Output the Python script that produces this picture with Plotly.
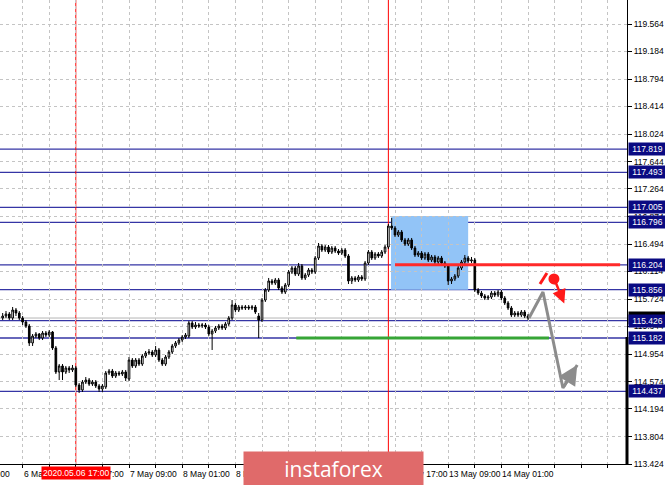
import plotly.graph_objects as go

# ---------------- data (hourly candles) ----------------
bar_index = list(range(159))

open_ = [115.461, 115.489, 115.517, 115.461, 115.573, 115.531, 115.461, 115.405, 115.350, 115.113,
         115.210, 115.238, 115.182, 115.252, 115.224, 115.266, 115.043, 114.708, 114.792, 114.708,
         114.764, 114.736, 114.764, 114.526, 114.457, 114.568, 114.596, 114.540, 114.568, 114.513,
         114.471, 114.499, 114.694, 114.722, 114.652, 114.694, 114.680, 114.708, 114.610, 114.875,
         114.792, 114.875, 114.819, 114.931, 114.973, 114.987, 114.945, 115.015, 114.875, 114.819,
         114.917, 114.987, 115.071, 115.113, 115.154, 115.196, 115.210, 115.392, 115.336, 115.364,
         115.350, 115.364, 115.336, 115.238, 115.280, 115.322, 115.350, 115.322, 115.378, 115.461,
         115.643, 115.573, 115.615, 115.601, 115.615, 115.601, 115.615, 115.489, 115.433, 115.712,
         115.852, 115.978, 115.950, 115.992, 115.880, 115.824, 115.922, 116.103, 116.159, 116.075,
         116.187, 116.020, 116.061, 116.131, 116.103, 116.299, 116.466, 116.410, 116.452, 116.382,
         116.438, 116.396, 116.368, 116.410, 116.327, 115.978, 116.020, 115.992, 116.034, 116.006,
         116.229, 116.382, 116.299, 116.354, 116.327, 116.382, 116.452, 116.745, 116.717, 116.620,
         116.661, 116.550, 116.494, 116.550, 116.438, 116.341, 116.368, 116.299, 116.354, 116.271,
         116.313, 116.243, 116.299, 116.229, 116.187, 115.978, 116.006, 116.047, 116.159, 116.243,
         116.299, 116.257, 116.271, 115.852, 115.810, 115.768, 115.740, 115.754, 115.810, 115.782,
         115.824, 115.740, 115.671, 115.601, 115.503, 115.531, 115.503, 115.545, 115.489]

high = [115.531, 115.559, 115.545, 115.615, 115.601, 115.559, 115.489, 115.433, 115.378, 115.238,
        115.266, 115.252, 115.280, 115.280, 115.294, 115.280, 115.071, 114.819, 114.819, 114.792,
        114.792, 114.806, 114.792, 114.554, 114.596, 114.638, 114.624, 114.596, 114.596, 114.540,
        114.540, 114.722, 114.750, 114.750, 114.722, 114.722, 114.736, 114.736, 114.917, 114.903,
        114.903, 114.903, 114.959, 115.001, 115.029, 115.015, 115.071, 115.043, 114.903, 114.945,
        115.015, 115.099, 115.140, 115.182, 115.224, 115.252, 115.419, 115.419, 115.405, 115.392,
        115.392, 115.392, 115.364, 115.308, 115.350, 115.378, 115.378, 115.405, 115.489, 115.712,
        115.671, 115.643, 115.643, 115.643, 115.643, 115.643, 115.643, 115.531, 115.740, 115.880,
        116.020, 116.006, 116.020, 116.020, 115.908, 115.950, 116.131, 116.187, 116.187, 116.229,
        116.215, 116.089, 116.159, 116.159, 116.327, 116.508, 116.494, 116.480, 116.480, 116.466,
        116.466, 116.424, 116.438, 116.438, 116.354, 116.047, 116.047, 116.061, 116.061, 116.257,
        116.410, 116.410, 116.382, 116.382, 116.410, 116.480, 116.773, 116.857, 116.745, 116.689,
        116.689, 116.578, 116.578, 116.578, 116.466, 116.396, 116.396, 116.382, 116.382, 116.341,
        116.341, 116.327, 116.327, 116.257, 116.215, 116.034, 116.075, 116.187, 116.271, 116.341,
        116.327, 116.313, 116.299, 115.880, 115.838, 115.796, 115.782, 115.838, 115.838, 115.852,
        115.852, 115.768, 115.698, 115.629, 115.559, 115.559, 115.573, 115.573, 115.517]

low = [115.433, 115.461, 115.433, 115.433, 115.489, 115.433, 115.364, 115.322, 115.071, 115.071,
       115.182, 115.154, 115.154, 115.196, 115.196, 115.015, 114.680, 114.596, 114.596, 114.680,
       114.694, 114.708, 114.499, 114.415, 114.429, 114.540, 114.513, 114.513, 114.485, 114.429,
       114.429, 114.471, 114.666, 114.624, 114.624, 114.652, 114.652, 114.582, 114.582, 114.764,
       114.764, 114.792, 114.792, 114.903, 114.945, 114.917, 114.917, 114.847, 114.792, 114.792,
       114.889, 114.959, 115.043, 115.085, 115.126, 115.168, 115.182, 115.308, 115.308, 115.322,
       115.322, 115.308, 115.210, 115.015, 115.252, 115.294, 115.294, 115.294, 115.350, 115.433,
       115.545, 115.545, 115.573, 115.573, 115.573, 115.573, 115.517, 115.182, 115.405, 115.685,
       115.824, 115.922, 115.922, 115.852, 115.796, 115.796, 115.894, 116.075, 116.047, 116.047,
       115.992, 115.992, 116.034, 116.075, 116.075, 116.271, 116.382, 116.382, 116.354, 116.354,
       116.368, 116.341, 116.341, 116.299, 115.936, 115.936, 115.964, 115.964, 115.978, 115.978,
       116.201, 116.271, 116.271, 116.299, 116.299, 116.354, 116.424, 116.689, 116.592, 116.592,
       116.522, 116.466, 116.466, 116.410, 116.313, 116.313, 116.271, 116.271, 116.243, 116.243,
       116.215, 116.215, 116.201, 116.159, 115.922, 115.936, 115.978, 116.020, 116.131, 116.215,
       116.229, 116.229, 115.824, 115.782, 115.740, 115.712, 115.712, 115.726, 115.754, 115.754,
       115.712, 115.643, 115.573, 115.475, 115.475, 115.475, 115.475, 115.461, 115.433]

close = [115.489, 115.517, 115.461, 115.573, 115.531, 115.461, 115.405, 115.350, 115.113, 115.210,
         115.238, 115.182, 115.252, 115.224, 115.266, 115.043, 114.708, 114.792, 114.708, 114.764,
         114.736, 114.764, 114.526, 114.457, 114.568, 114.596, 114.540, 114.568, 114.513, 114.471,
         114.513, 114.694, 114.722, 114.652, 114.694, 114.680, 114.708, 114.624, 114.875, 114.792,
         114.875, 114.819, 114.931, 114.973, 114.987, 114.945, 115.015, 114.875, 114.819, 114.917,
         114.987, 115.071, 115.113, 115.154, 115.196, 115.224, 115.392, 115.336, 115.364, 115.350,
         115.364, 115.336, 115.238, 115.280, 115.322, 115.350, 115.322, 115.378, 115.461, 115.643,
         115.573, 115.615, 115.601, 115.615, 115.601, 115.615, 115.545, 115.433, 115.712, 115.852,
         115.978, 115.950, 115.992, 115.880, 115.824, 115.922, 116.103, 116.159, 116.075, 116.187,
         116.020, 116.061, 116.131, 116.103, 116.299, 116.466, 116.410, 116.452, 116.382, 116.438,
         116.396, 116.368, 116.410, 116.327, 115.978, 116.020, 115.992, 116.034, 116.006, 116.229,
         116.382, 116.299, 116.354, 116.327, 116.382, 116.452, 116.745, 116.717, 116.620, 116.661,
         116.550, 116.494, 116.550, 116.438, 116.341, 116.368, 116.299, 116.354, 116.271, 116.313,
         116.243, 116.299, 116.229, 116.187, 115.978, 116.006, 116.047, 116.159, 116.243, 116.299,
         116.257, 116.271, 115.852, 115.810, 115.768, 115.740, 115.754, 115.810, 115.782, 115.824,
         115.740, 115.671, 115.601, 115.503, 115.531, 115.503, 115.545, 115.489, 115.461]

price_ticks = [113.424, 113.804, 114.194, 114.574, 114.954, 115.344, 115.724, 116.114, 116.494,
               116.874, 117.264, 117.644, 118.024, 118.414, 118.794, 119.184, 119.564]

time_label_pos = [6, 22, 38, 54, 70, 86, 102, 118, 134, 150]
time_label_text = ["6 May 01:00", "6 May 17:00", "7 May 09:00", "8 May 01:00", "8 May 17:00",
                   "11 May 09:00", "12 May 01:00", "12 May 17:00", "13 May 09:00", "14 May 01:00"]
first_cut_label = "5 May 09:00"
grid_pos = [6 + 8 * k for k in range(23)]

levels = [117.819, 117.493, 117.005, 116.796, 116.204, 115.856, 115.426, 115.182, 114.437]
bid_price = 115.461
vlines = [22, 116]
crosshair_label = "2020.05.06 17:00"

zone_x = [116.8, 140.0]
zone_y = [115.856, 116.885]

red_level = 116.204
red_x = [118.0, 185.7]
green_level = 115.182
green_x = [88.3, 164.3]

path_x = [158.3, 162.5, 168.5]
path_y = [115.461, 115.824, 114.485]
path_tip = (172.8, 114.806)

slash_x = [161.6, 163.7]
slash_y = [115.936, 116.089]
dot = (165.8, 116.006)
red_arrow_from = (165.9, 116.006)
red_arrow_to = (168.9, 115.665)

X_RANGE = [-0.8, 187.77]
Y_RANGE = [113.424, 119.899]
FONT = "Liberation Sans"
NAVY = "#0a0a82"
LEVEL_COLOR = "#3535a5"

fig = go.Figure()

fig.add_trace(go.Candlestick(
    x=bar_index, open=open_, high=high, low=low, close=close,
    increasing=dict(fillcolor="white", line=dict(color="black", width=1)),
    decreasing=dict(fillcolor="black", line=dict(color="black", width=1)),
    whiskerwidth=0, hoverinfo="skip", showlegend=False,
))

fig.add_trace(go.Scatter(x=path_x + [path_tip[0]], y=path_y + [path_tip[1]], mode="lines",
                         line=dict(color="#8c8c8c", width=3), hoverinfo="skip", showlegend=False))
fig.add_trace(go.Scatter(x=slash_x, y=slash_y, mode="lines",
                         line=dict(color="#ff1a1a", width=3), hoverinfo="skip", showlegend=False))

shapes = []
shapes.append(dict(type="rect", xref="x", yref="y", x0=zone_x[0], x1=zone_x[1], y0=zone_y[0], y1=zone_y[1],
                   fillcolor="rgb(146,196,247)", line=dict(width=0), layer="below"))
for lv in levels:
    shapes.append(dict(type="line", xref="paper", yref="y", x0=0, x1=1, y0=lv, y1=lv,
                       line=dict(color=LEVEL_COLOR, width=1.3), layer="below"))
shapes.append(dict(type="line", xref="paper", yref="y", x0=0, x1=1, y0=bid_price, y1=bid_price,
                   line=dict(color="#b4b4b4", width=1), layer="below"))
for vx in vlines:
    shapes.append(dict(type="line", xref="x", yref="paper", x0=vx, x1=vx, y0=0, y1=1,
                       line=dict(color="#ff0000", width=1), layer="below"))
shapes.append(dict(type="line", xref="x", yref="y", x0=red_x[0], x1=red_x[1], y0=red_level, y1=red_level,
                   line=dict(color="#ff2a2a", width=3), layer="above"))
shapes.append(dict(type="line", xref="x", yref="y", x0=green_x[0], x1=green_x[1], y0=green_level, y1=green_level,
                   line=dict(color="#36a536", width=3), layer="above"))
shapes.append(dict(type="line", xref="paper", yref="y", x0=1, x1=1, y0=Y_RANGE[0], y1=115.196,
                   line=dict(color="black", width=3), layer="above"))

annotations = []
annotations.append(dict(x=path_tip[0], y=path_tip[1], ax=path_x[2], ay=path_y[2],
                        xref="x", yref="y", axref="x", ayref="y", showarrow=True, text="",
                        arrowhead=2, arrowsize=1.3, arrowwidth=3, arrowcolor="#8c8c8c"))
annotations.append(dict(x=red_arrow_to[0], y=red_arrow_to[1], ax=red_arrow_from[0], ay=red_arrow_from[1],
                        xref="x", yref="y", axref="x", ayref="y", showarrow=True, text="",
                        arrowhead=2, arrowsize=1.1, arrowwidth=2.5, arrowcolor="#ff1a1a"))

annotations.append(dict(xref="paper", yref="paper", x=0, y=0, xanchor="right", yanchor="top",
                        xshift=12, yshift=-3, text=first_cut_label, showarrow=False,
                        font=dict(family=FONT, size=8.5, color="black")))
for pos, txt in zip(time_label_pos, time_label_text):
    annotations.append(dict(xref="x", yref="paper", x=pos, y=0, xanchor="left", yanchor="top",
                            xshift=-1, yshift=-3, text=txt, showarrow=False,
                            font=dict(family=FONT, size=8.5, color="black")))
annotations.append(dict(xref="x", yref="paper", x=vlines[0], y=0, xanchor="center", yanchor="top",
                        yshift=-2, text=crosshair_label, showarrow=False, bgcolor="#ff0000",
                        borderpad=1, font=dict(family=FONT, size=8.5, color="white")))

annotations.append(dict(xref="paper", yref="y", x=1, y=bid_price, xanchor="left", yanchor="middle",
                        xshift=1, text=f"{bid_price:.3f}", showarrow=False, bgcolor="black",
                        width=35, borderpad=1, font=dict(family=FONT, size=8.5, color="white")))
for lv in levels:
    annotations.append(dict(xref="paper", yref="y", x=1, y=lv, xanchor="left", yanchor="middle",
                            xshift=1, text=f"{lv:.3f}", showarrow=False, bgcolor=NAVY,
                            width=35, borderpad=1, font=dict(family=FONT, size=8.5, color="white")))

annotations.append(dict(xref="paper", yref="paper", x=333.5 / 627, y=(464 - 469) / 464,
                        xanchor="center", yanchor="middle", width=177, height=32,
                        text="instaforex", showarrow=False, bgcolor="#e06a6a",
                        font=dict(family="Open Sans", size=21, color="white")))

fig.add_trace(go.Scatter(x=[dot[0]], y=[dot[1]], mode="markers",
                         marker=dict(color="#ff1a1a", size=11), hoverinfo="skip", showlegend=False))

fig.update_layout(
    width=665, height=485,
    margin=dict(l=0, r=38, t=0, b=21, pad=0, autoexpand=False),
    paper_bgcolor="white", plot_bgcolor="white",
    showlegend=False, hovermode=False,
    shapes=shapes, annotations=annotations,
    font=dict(family=FONT, size=8.5, color="black"),
    xaxis=dict(range=X_RANGE, tickmode="array", tickvals=grid_pos, showticklabels=False,
               ticks="outside", ticklen=3, tickcolor="black", automargin=False,
               showgrid=True, gridcolor="#c4c4c4", griddash="3px,3px", gridwidth=1,
               showline=True, linecolor="black", linewidth=1, zeroline=False,
               rangeslider=dict(visible=False), fixedrange=True),
    yaxis=dict(range=Y_RANGE, side="right", tickmode="array", tickvals=price_ticks,
               ticktext=[f"{v:.3f}" for v in price_ticks], automargin=False,
               ticks="outside", ticklen=4, tickcolor="black",
               showgrid=True, gridcolor="#c4c4c4", griddash="3px,3px", gridwidth=1,
               showline=True, linecolor="black", linewidth=1, zeroline=False,
               tickfont=dict(family=FONT, size=8.5, color="black"), fixedrange=True),
)

fig.write_html("out.html", config={"displayModeBar": False},
               post_script="document.body.style.margin='0';document.body.style.padding='0';document.body.style.overflow='hidden';")
